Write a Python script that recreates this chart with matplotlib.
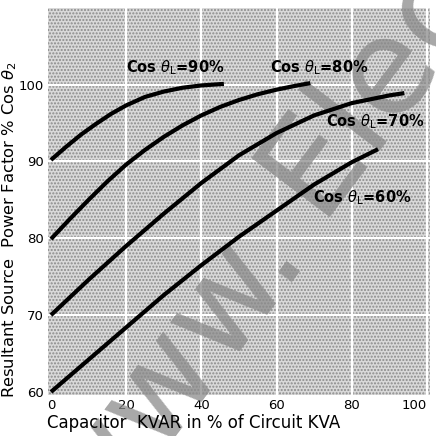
import matplotlib
matplotlib.use('Agg')
import matplotlib.pyplot as plt
from matplotlib.patches import Rectangle

# --------DATA--------
x_pf90 = [0, 4, 8, 12, 16, 20, 25, 30, 35, 40, 46]
y_pf90 = [90.2, 91.9, 93.5, 94.9, 96.2, 97.3, 98.4, 99.1, 99.6, 99.9, 100.1]

x_pf80 = [0, 5, 10, 15, 20, 25, 30, 35, 40, 45, 50, 55, 60, 65, 69]
y_pf80 = [79.9, 82.5, 85.0, 87.4, 89.6, 91.5, 93.2, 94.7, 96.0, 97.1, 98.0, 98.75, 99.35, 99.85, 100.2]

x_pf70 = [0, 10, 20, 30, 40, 50, 60, 70, 80, 90, 94]
y_pf70 = [70.0, 74.6, 79.0, 83.2, 87.2, 90.8, 93.7, 96.0, 97.6, 98.6, 98.9]

x_pf60 = [0, 10, 20, 30, 40, 50, 60, 70, 80, 87]
y_pf60 = [60.0, 64.2, 68.4, 72.6, 76.5, 80.2, 83.6, 87.0, 89.9, 91.6]

curve_labels = [r'Cos $\theta_{\rm L}$=90%', r'Cos $\theta_{\rm L}$=80%',
                r'Cos $\theta_{\rm L}$=70%', r'Cos $\theta_{\rm L}$=60%']
label_pos = [(33, 102.2), (71.3, 102.2), (86.4, 95.2), (82.7, 85.3)]

x_ticks = [0, 20, 40, 60, 80, 100]
y_ticks = [60, 70, 80, 90, 100]

# --------FIGURE--------
plt.rcParams['font.family'] = ['DejaVu Sans']
plt.rcParams['mathtext.fontset'] = 'dejavusans'
plt.rcParams['hatch.linewidth'] = 1.0

W = 436
fig = plt.figure(figsize=(4.36, 4.36), dpi=100)
ax = fig.add_axes([0.110, 0.094, 0.876, 0.888])

ax.set_xlim(-0.8, 100.8)
ax.set_ylim(59.6, 110)

# stippled paper background
ax.add_patch(Rectangle((0, 0), 1, 1, transform=ax.transAxes, facecolor='#d9d9d9',
                       edgecolor='#8a8a8a', hatch='.....', lw=0, zorder=0))
for s in ax.spines.values():
    s.set_visible(False)

for xv in x_ticks[1:]:
    ax.axvline(xv, color='white', lw=1.6, zorder=1)
for yv in y_ticks[1:]:
    ax.axhline(yv, color='white', lw=1.6, zorder=1)

# watermark (two pieces so the gap after the dot can be set)
wm = dict(transform=fig.transFigure, va='baseline', rotation=53, rotation_mode='anchor',
          fontsize=96, color='#8a8a8a', alpha=0.75, clip_on=False, zorder=2)
ax.text(308 / W, 1 - 254 / W, 'www.', ha='right', **wm)
ax.text(317 / W, 1 - 217 / W, 'Electrical', ha='left', **wm)

for xs, ys in [(x_pf90, y_pf90), (x_pf80, y_pf80), (x_pf70, y_pf70), (x_pf60, y_pf60)]:
    ax.plot(xs, ys, color='black', lw=3, solid_capstyle='butt', zorder=3)

for txt, (lx, ly) in zip(curve_labels, label_pos):
    ax.text(lx, ly, txt, ha='center', va='center', fontsize=10.5, fontweight='bold', zorder=4)

ax.set_xticks(x_ticks)
ax.set_yticks(y_ticks)
ax.tick_params(length=0, labelsize=9.5, pad=3)
ax.get_xticklabels()[-1].set_horizontalalignment('right')

fig.text(47 / W, 1 - 428 / W, 'Capacitor  KVAR in % of Circuit KVA', ha='left', va='baseline',
         fontsize=12)
fig.text(10 / W, 1 - 398 / W, r'Resultant Source  Power Factor % Cos $\theta_2$', ha='center',
         va='bottom', rotation=90, fontsize=11.8)

fig.savefig('out.png', dpi=100, facecolor='white')
